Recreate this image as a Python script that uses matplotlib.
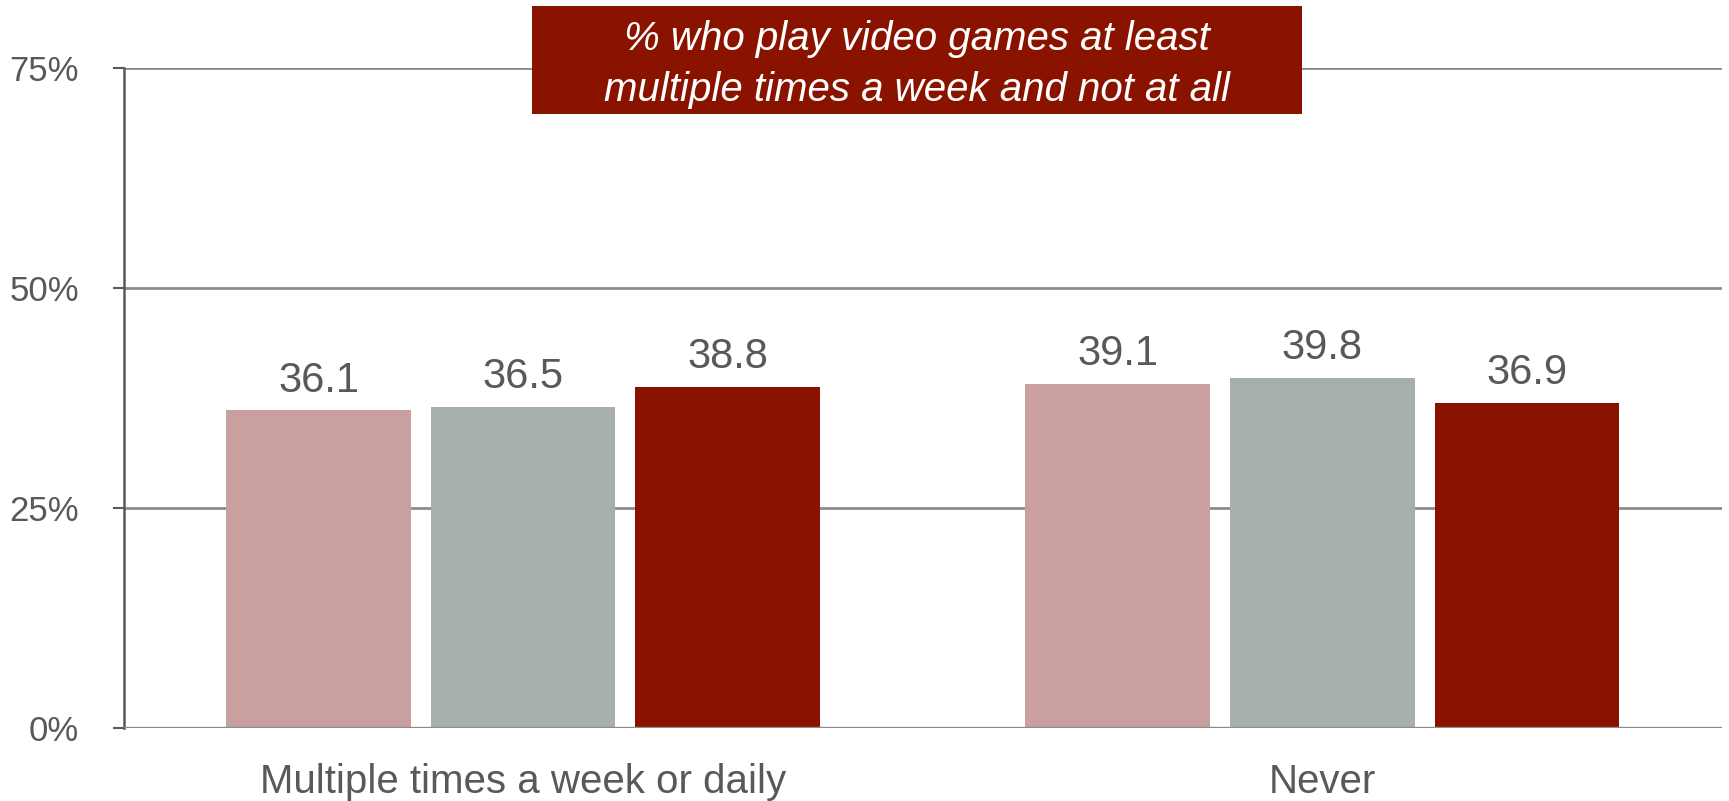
import matplotlib
matplotlib.use("Agg")
import matplotlib.pyplot as plt
import numpy as np

# Survey data: share of respondents by gaming frequency
categories = ["Multiple times a week or daily", "Never"]
series_a = [36.1, 39.1]
series_b = [36.5, 39.8]
series_c = [38.8, 36.9]
y_ticks = [0, 25, 50, 75]
y_tick_labels = ["0%", "25%", "50%", "75%"]
title_text = "% who play video games at least\nmultiple times a week and not at all"

colors = ["#C9A09F", "#A7AFAC", "#8A1300"]
text_color = "#595959"
plt.rcParams["font.family"] = ["Liberation Sans", "DejaVu Sans"]

W, H, DPI = 1729, 801, 100
fig = plt.figure(figsize=(W / DPI, H / DPI), dpi=DPI)
ax = fig.add_axes([123.5 / W, 1 - 727.8 / H, (1722 - 123.5) / W, (727.8 - 68.4) / H])

x = np.arange(len(categories))
width = 0.231
step = 0.256
for i, (vals, col) in enumerate(zip([series_a, series_b, series_c], colors)):
    pos = x + (i - 1) * step
    bars = ax.bar(pos, vals, width=width, color=col, zorder=3)
    for b, v in zip(bars, vals):
        ax.text(b.get_x() + b.get_width() / 2, v + 2.15, f"{v:.1f}",
                ha="center", va="baseline", fontsize=30, color=text_color)

ax.set_xlim(-0.5, 1.5)
ax.set_ylim(0, 75)
ax.set_yticks(y_ticks)
ax.set_yticklabels(y_tick_labels, fontsize=25, color=text_color)
ax.set_xticks(x)
ax.set_xticklabels(categories, fontsize=29, color=text_color)
ax.tick_params(axis="x", length=0, pad=25)
ax.tick_params(axis="y", length=8, width=1.5, color=text_color, pad=24)

ax.yaxis.grid(True, color="#8C8C8C", linewidth=2.0, zorder=0)
for side in ["top", "right", "bottom"]:
    ax.spines[side].set_visible(False)
ax.spines["left"].set_color(text_color)
ax.spines["left"].set_linewidth(1.8)
ax.axhline(0, color="#8C8C8C", linewidth=2.4, zorder=4)

# Title banner
fig.patches.append(matplotlib.patches.Rectangle(
    (531.5 / W, 1 - 113.6 / H), (1302 - 531.5) / W, (113.6 - 5.5) / H,
    transform=fig.transFigure, facecolor="#8A1300", edgecolor="none", zorder=5))
fig.text((531.5 + 1302) / 2 / W, 1 - 64.5 / H, title_text, ha="center", va="center",
         fontsize=29, style="italic", color="white", linespacing=1.45, zorder=6)

fig.savefig("out.png", dpi=DPI)
